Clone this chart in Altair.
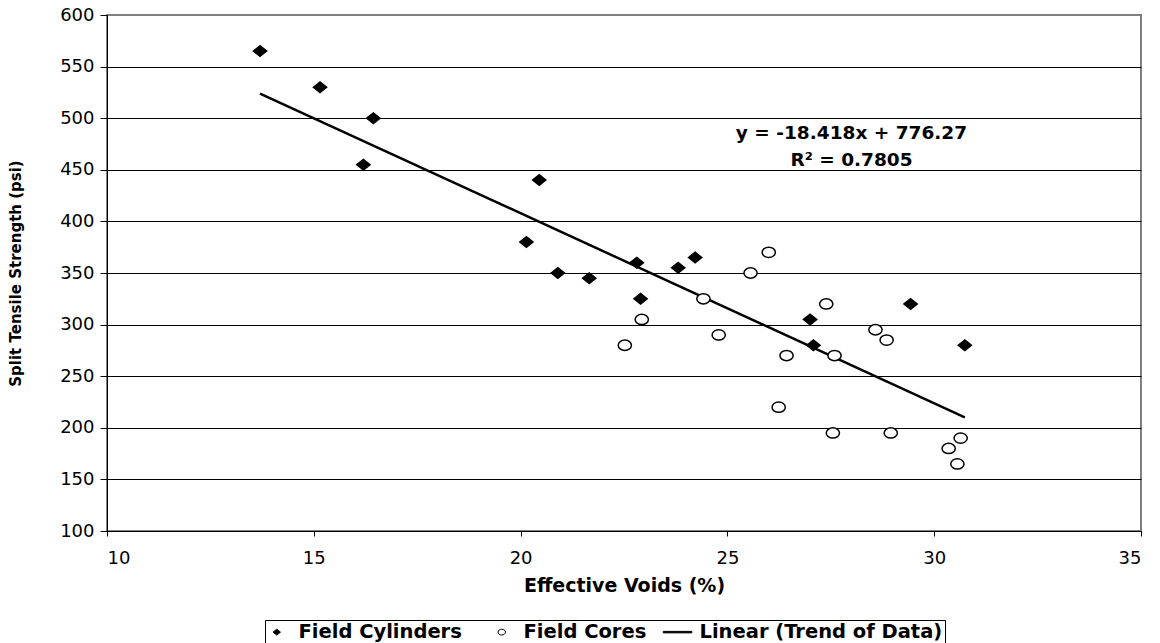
import altair as alt
import pandas as pd

# Field Cylinders (filled diamonds)
cyl_x = [13.7, 15.15, 16.44, 16.2, 20.45, 20.14, 20.9, 21.66, 22.81, 22.9, 23.81, 24.22, 27.0, 27.08, 29.43, 30.74]
cyl_y = [565, 530, 500, 455, 440, 380, 350, 345, 360, 325, 355, 365, 305, 280, 320, 280]

# Field Cores (open circles)
core_x = [26.0, 25.56, 24.42, 27.39, 22.93, 24.79, 22.52, 26.43, 27.59, 28.58, 28.85, 26.24, 27.55, 28.95, 30.64, 30.35, 30.56]
core_y = [370, 350, 325, 320, 305, 290, 280, 270, 270, 295, 285, 220, 195, 195, 190, 180, 165]

# Linear trend line end points
trend_x = [13.7, 30.74]
trend_y = [523.9, 210.1]

# Equation annotation
eq_text = ["y = -18.418x + 776.27", "R² = 0.7805"]
eq_x = [28.0, 28.0]
eq_y = [485.5, 459.5]

series = ["Field Cylinders", "Field Cores", "Linear (Trend of Data)"]
x_ticks = [10, 15, 20, 25, 30, 35]
y_ticks = [100, 150, 200, 250, 300, 350, 400, 450, 500, 550, 600]

FONT = "DejaVu Sans"

pts = pd.DataFrame({
    "x": cyl_x + core_x,
    "y": cyl_y + core_y,
    "series": [series[0]] * len(cyl_x) + [series[1]] * len(core_x),
})
trend = pd.DataFrame({"x": trend_x, "y": trend_y})
eq = pd.DataFrame({"x": eq_x, "y": eq_y, "t": eq_text})

xs = alt.Scale(domain=[10, 35], nice=False, zero=False)
ys = alt.Scale(domain=[100, 600], nice=False, zero=False)

xaxis = alt.Axis(values=x_ticks, grid=False, title="Effective Voids (%)", tickSize=5,
                 labelFontSize=18, labelFont=FONT, labelColor="black", labelPadding=13,
                 titleFont=FONT, titleFontSize=19, titleFontWeight="bold", titleColor="black",
                 titlePadding=9, domainColor="black", tickColor="black")
yaxis = alt.Axis(values=y_ticks, grid=True,
                 gridColor=alt.condition("datum.value === 600", alt.value("#808080"), alt.value("black")),
                 gridWidth=1,
                 title="Split Tensile Strength (psi)", tickSize=7,
                 labelFontSize=18, labelFont=FONT, labelColor="black", labelPadding=6,
                 titleFont=FONT, titleFontSize=15,
                 titleFontWeight="bold", titleColor="black", titleX=-84, titleY=258,
                 titleBaseline="bottom", domainColor="black", tickColor="black")

# symbol shapes (slightly wide, like the stretched original); the leading move-to of
# the circle only widens its legend entry so the legend spacing follows the original
diamond_path = "M-1,0L0,-0.8L1,0L0,0.8Z"
circle_path = ("M-6.2,0M1,0C1,0.4308 0.5523,0.78 0,0.78C-0.5523,0.78 -1,0.4308 -1,0"
               "C-1,-0.4308 -0.5523,-0.78 0,-0.78C0.5523,-0.78 1,-0.4308 1,0Z")
line_path = "M-3.9,-0.2L3.8,-0.2L3.8,0.2L-3.9,0.2Z"

leg = alt.Legend(orient="none", legendX=158, legendY=605, direction="horizontal",
                 strokeColor="black", fillColor="white", padding=2, columnPadding=14,
                 labelFont=FONT, labelFontSize=19.5, labelFontWeight="bold", labelColor="black",
                 labelOffset=12, labelLimit=500, symbolSize=55, symbolStrokeWidth=1, cornerRadius=0)

points = alt.Chart(pts).mark_point(size=175, strokeWidth=1.5, opacity=1).encode(
    x=alt.X("x:Q", scale=xs, axis=xaxis),
    y=alt.Y("y:Q", scale=ys, axis=yaxis),
    shape=alt.Shape("series:N", title=None, legend=leg,
                    scale=alt.Scale(domain=series, range=[diamond_path, circle_path, line_path])),
    fill=alt.Fill("series:N", title=None, legend=leg,
                  scale=alt.Scale(domain=series, range=["black", "white", "black"])),
    stroke=alt.Stroke("series:N", title=None, legend=leg,
                      scale=alt.Scale(domain=series, range=["black", "black", "black"])),
)

trend_line = alt.Chart(trend).mark_line(color="black", strokeWidth=2.5).encode(
    x=alt.X("x:Q", scale=xs), y=alt.Y("y:Q", scale=ys)
)

eq_label = alt.Chart(eq).mark_text(font=FONT, fontSize=18.5, fontWeight="bold", color="black",
                                   align="center", baseline="middle").encode(
    x=alt.X("x:Q", scale=xs), y=alt.Y("y:Q", scale=ys), text="t:N"
)

chart = alt.layer(trend_line, points, eq_label).properties(
    width=1034, height=516,
    autosize=alt.AutoSizeParams(type="none"),
    padding={"left": 107, "top": 15, "right": 19, "bottom": 112},
    background="white",
).configure_view(stroke="#808080", strokeWidth=2)

chart.save("out.html", embed_options={"renderer": "svg", "actions": False})
